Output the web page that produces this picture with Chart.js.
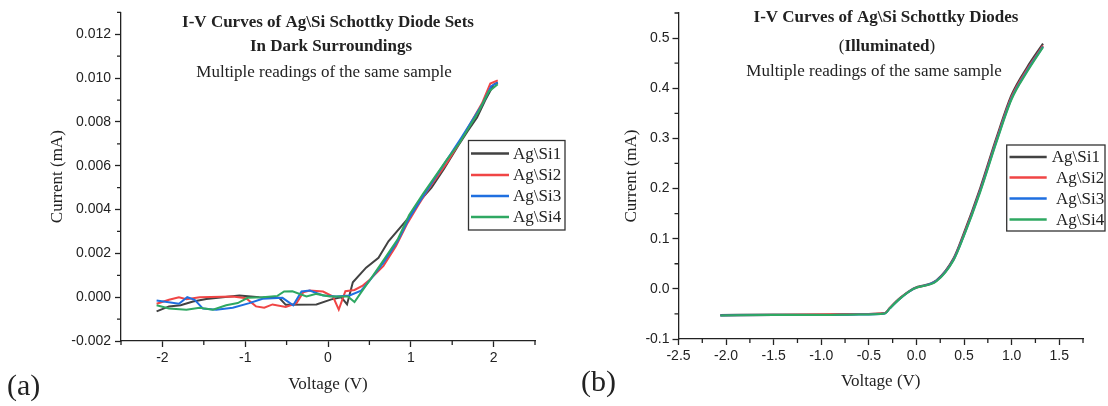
<!DOCTYPE html>
<html>
<head>
<meta charset="utf-8">
<script src="https://cdn.jsdelivr.net/npm/chart.js@4.4.1/dist/chart.umd.min.js"></script>
<style>
  html, body { margin: 0; padding: 0; background: #fff; }
  body { width: 1108px; height: 406px; position: relative; overflow: hidden; }
  #panelA { position: absolute; left: 0; top: 0; }
  #panelB { position: absolute; left: 580px; top: 0; }
</style>
</head>
<body>
<canvas id="panelA" width="580" height="406"></canvas>
<canvas id="panelB" width="528" height="406"></canvas>
<script>
// ---------- (a) dark measurements: voltage (V) and current (mA) ----------
const darkV1 = [-2.07, -1.92, -1.78, -1.63, -1.47, -1.07, -0.83, -0.59, -0.51, -0.14, 0.04, 0.16, 0.23, 0.30, 0.46, 0.61, 0.73, 0.90, 1.00, 1.11, 1.25, 1.40, 1.57, 1.69, 1.80, 1.90, 2.00, 2.05];
const darkI1 = [-0.00065, -0.00042, -0.00037, -0.0002, -0.00008, 0.00008, 0.0, -0.00003, -0.00035, -0.00033, -0.0001, 0.0, -0.00033, 0.00068, 0.00135, 0.0018, 0.00255, 0.0033, 0.00375, 0.0044, 0.005, 0.00585, 0.0069, 0.0076, 0.0082, 0.009, 0.0097, 0.0098];

const darkV2 = [-2.07, -1.92, -1.80, -1.71, -1.55, -1.15, -0.99, -0.87, -0.77, -0.67, -0.51, -0.38, -0.30, -0.22, -0.06, 0.06, 0.13, 0.21, 0.32, 0.42, 0.50, 0.67, 0.82, 0.96, 1.09, 1.19, 1.44, 1.61, 1.86, 1.96, 2.05];
const darkI2 = [-0.0003, -0.00012, 0.0, -0.00009, 0.0, 0.00003, -0.00005, -0.00042, -0.00048, -0.00033, -0.00045, -0.00027, 0.00022, 0.0003, 0.00026, 0.00003, -0.00057, 0.00027, 0.00033, 0.00053, 0.00078, 0.00143, 0.00233, 0.00338, 0.0042, 0.0048, 0.00615, 0.0072, 0.00885, 0.00975, 0.0099];

const darkV3 = [-2.07, -1.80, -1.70, -1.61, -1.51, -1.35, -1.15, -0.95, -0.79, -0.55, -0.42, -0.32, -0.22, -0.06, 0.10, 0.26, 0.40, 0.50, 0.67, 0.84, 0.98, 1.13, 1.44, 1.61, 1.86, 1.97, 2.05];
const darkI3 = [-0.00015, -0.0003, 0.0, -0.00012, -0.00052, -0.00057, -0.00048, -0.00027, -0.00007, -0.00003, -0.00037, 0.00026, 0.0003, 0.00008, 0.00003, 0.00008, 0.0003, 0.00075, 0.00158, 0.00255, 0.0036, 0.0045, 0.0063, 0.00728, 0.00878, 0.00963, 0.0098];

const darkV4 = [-2.07, -1.92, -1.71, -1.55, -1.39, -1.23, -1.09, -0.97, -0.79, -0.61, -0.53, -0.43, -0.26, -0.14, 0.02, 0.24, 0.32, 0.40, 0.50, 0.61, 0.69, 0.84, 0.98, 1.15, 1.44, 1.59, 1.82, 1.94, 2.05];
const darkI4 = [-0.00037, -0.00052, -0.00057, -0.00048, -0.00057, -0.00037, -0.00027, -0.00003, 0.0, 0.00006, 0.00026, 0.00027, 0.00003, 0.00015, 0.00003, 0.00003, -0.00022, 0.00022, 0.00075, 0.00135, 0.0018, 0.00263, 0.00375, 0.00473, 0.0063, 0.00705, 0.00848, 0.00938, 0.00972];

// ---------- (b) illuminated measurements ----------
const litV = [-2.06, -1.5, -1.0, -0.6, -0.33, -0.28, -0.17, -0.03, 0.21, 0.39, 0.49, 0.67, 0.84, 1.0, 1.16, 1.33];
const litI1 = [-0.052, -0.051, -0.051, -0.050, -0.048, -0.038, -0.018, 0.001, 0.017, 0.061, 0.107, 0.201, 0.301, 0.387, 0.441, 0.489];
const litI2 = [-0.053, -0.052, -0.051, -0.050, -0.048, -0.038, -0.018, 0.000, 0.016, 0.059, 0.104, 0.197, 0.297, 0.383, 0.437, 0.485];
const litI3 = [-0.053, -0.052, -0.052, -0.051, -0.049, -0.039, -0.019, 0.000, 0.016, 0.058, 0.102, 0.195, 0.294, 0.380, 0.434, 0.483];
const litI4 = [-0.053, -0.052, -0.052, -0.051, -0.049, -0.039, -0.019, 0.000, 0.015, 0.057, 0.101, 0.193, 0.292, 0.378, 0.432, 0.482];

const seriesNames = ['Ag\\Si1', 'Ag\\Si2', 'Ag\\Si3', 'Ag\\Si4'];
const seriesColors = ['#424242', '#f04545', '#1f6fe0', '#2fa862'];

// ---------- tick values ----------
const voltTicksA = [-2, -1, 0, 1, 2];
const voltMinorA = [-2.5, -1.5, -0.5, 0.5, 1.5, 2.5];
const currTicksA = [-0.002, 0.0, 0.002, 0.004, 0.006, 0.008, 0.010, 0.012];
const currMinorA = [-0.001, 0.001, 0.003, 0.005, 0.007, 0.009, 0.011, 0.013];

const voltTicksB = [-2.5, -2.0, -1.5, -1.0, -0.5, 0.0, 0.5, 1.0, 1.5];
const voltMinorB = [-2.25, -1.75, -1.25, -0.75, -0.25, 0.25, 0.75, 1.25, 1.75];
const currTicksB = [-0.1, 0.0, 0.1, 0.2, 0.3, 0.4, 0.5];
const currMinorB = [-0.05, 0.05, 0.15, 0.25, 0.35, 0.45, 0.55];

const SERIF = "'Liberation Serif', 'Times New Roman', serif";
const SANS = "'Liberation Sans', Arial, sans-serif";
const INK = '#222';

function points(xs, ys) { return xs.map((x, i) => ({ x: x, y: ys[i] })); }

// later series are painted over earlier ones
function makeSets(xsList, ysList, extra) {
  return ysList.map((ys, i) => Object.assign({
    label: seriesNames[i],
    data: points(xsList[i], ys),
    borderColor: seriesColors[i],
    backgroundColor: seriesColors[i],
    borderWidth: 2,
    pointRadius: 0,
    fill: false,
    order: ysList.length - i
  }, extra));
}

// short outward minor ticks on both axes
const minorTicks = {
  id: 'minorTicks',
  afterDraw(chart, args, opts) {
    const { ctx, chartArea } = chart;
    const xs = chart.scales.x, ys = chart.scales.y;
    ctx.save();
    ctx.strokeStyle = INK;
    ctx.lineWidth = 1.3;
    ctx.beginPath();
    opts.x.forEach(v => {
      const px = xs.getPixelForValue(v);
      ctx.moveTo(px, chartArea.bottom);
      ctx.lineTo(px, chartArea.bottom + opts.len);
    });
    opts.y.forEach(v => {
      const py = ys.getPixelForValue(v);
      ctx.moveTo(chartArea.left, py);
      ctx.lineTo(chartArea.left - opts.len, py);
    });
    ctx.stroke();
    ctx.restore();
  }
};

// framed legend built from the chart's datasets
const boxLegend = {
  id: 'boxLegend',
  afterDraw(chart, args, o) {
    const ctx = chart.ctx;
    ctx.save();
    ctx.fillStyle = '#fff';
    ctx.fillRect(o.left, o.top, o.right - o.left, o.bottom - o.top);
    ctx.strokeStyle = '#333';
    ctx.lineWidth = 1.3;
    ctx.strokeRect(o.left, o.top, o.right - o.left, o.bottom - o.top);
    ctx.font = '17px ' + SERIF;
    ctx.textBaseline = 'middle';
    ctx.textAlign = 'left';
    chart.data.datasets.forEach((ds, i) => {
      const y = o.rows[i];
      ctx.strokeStyle = ds.borderColor;
      ctx.lineWidth = 2.5;
      ctx.beginPath();
      ctx.moveTo(o.lineFrom, y);
      ctx.lineTo(o.lineTo, y);
      ctx.stroke();
      ctx.fillStyle = INK;
      ctx.fillText(ds.label, o.textX[i], y + 1);
    });
    ctx.restore();
  }
};

// free text: headings and panel letters
const freeText = {
  id: 'freeText',
  afterDraw(chart, args, opts) {
    const ctx = chart.ctx;
    ctx.save();
    ctx.fillStyle = INK;
    ctx.textBaseline = 'middle';
    opts.items.forEach(it => {
      const parts = it.parts.map(p => {
        const font = (p.bold ? 'bold ' : '') + it.size + 'px ' + SERIF;
        ctx.font = font;
        return { text: p.text, font: font, w: ctx.measureText(p.text).width };
      });
      const total = parts.reduce((s, p) => s + p.w, 0);
      let x = it.align === 'left' ? it.x : it.x - total / 2;
      ctx.textAlign = 'left';
      parts.forEach(p => {
        ctx.font = p.font;
        ctx.fillText(p.text, x, it.y);
        x += p.w;
      });
    });
    ctx.restore();
  }
};

function axisCommon(min, max, tickVals, fmt, pad) {
  return {
    type: 'linear',
    min: min,
    max: max,
    afterBuildTicks: s => { s.ticks = tickVals.map(v => ({ value: v })); },
    ticks: {
      font: { family: SANS, size: 14 },
      color: INK,
      padding: pad,
      autoSkip: false,
      maxRotation: 0,
      callback: fmt
    },
    grid: { drawOnChartArea: false, drawTicks: true, tickLength: 6, tickColor: INK, tickWidth: 1.3 },
    border: { display: true, color: INK, width: 1.3 }
  };
}

function buildChart(canvasId, cfg) {
  const x = axisCommon(cfg.xMin, cfg.xMax, cfg.xTicks, cfg.xFmt, 3);
  x.afterFit = s => { s.height = cfg.xHeight; };
  x.title = { display: true, text: 'Voltage (V)', color: INK, font: { family: SERIF, size: 17 }, padding: { top: 0, bottom: cfg.xTitlePad } };
  const y = axisCommon(cfg.yMin, cfg.yMax, cfg.yTicks, cfg.yFmt, cfg.yPad);
  y.afterFit = s => { s.width = cfg.yWidth; };
  y.title = { display: true, text: 'Current (mA)', color: INK, font: { family: SERIF, size: 17 }, padding: { top: cfg.yTitlePad, bottom: 0 } };

  return new Chart(document.getElementById(canvasId), {
    type: 'line',
    data: { datasets: cfg.datasets },
    options: {
      responsive: false,
      devicePixelRatio: 1,
      animation: false,
      layout: { padding: cfg.padding },
      scales: { x: x, y: y },
      plugins: {
        legend: { display: false },
        tooltip: { enabled: false },
        minorTicks: { x: cfg.xMinor, y: cfg.yMinor, len: 4 },
        boxLegend: cfg.legend,
        freeText: { items: cfg.text }
      }
    },
    plugins: [minorTicks, boxLegend, freeText]
  });
}

// (a) dark
buildChart('panelA', {
  datasets: makeSets([darkV1, darkV2, darkV3, darkV4], [darkI1, darkI2, darkI3, darkI4], { tension: 0 }),
  xMin: -2.5, xMax: 2.5, xTicks: voltTicksA, xMinor: voltMinorA, xFmt: v => v.toFixed(0),
  yMin: -0.002, yMax: 0.013, yTicks: currTicksA, yMinor: currMinorA, yFmt: v => v.toFixed(3),
  yPad: 4, yWidth: 121, xHeight: 65, yTitlePad: 47.7, xTitlePad: 10.8,
  padding: { left: 0, top: 8, right: 45, bottom: 0 },
  legend: { left: 468.5, top: 140.5, right: 565, bottom: 230, lineFrom: 471, lineTo: 509, textX: [513, 513, 513, 513], rows: [153.5, 175, 196, 217] },
  text: [
    { x: 328, y: 23, size: 17, parts: [{ text: 'I-V Curves of Ag\\Si Schottky Diode Sets', bold: true }] },
    { x: 331, y: 47, size: 17, parts: [{ text: 'In Dark Surroundings', bold: true }] },
    { x: 324, y: 73, size: 17, parts: [{ text: 'Multiple readings of the same sample', bold: false }] },
    { x: 7, y: 387, size: 30, align: 'left', parts: [{ text: '(a)', bold: false }] }
  ]
});

// (b) illuminated
buildChart('panelB', {
  datasets: makeSets([litV, litV, litV, litV], [litI1, litI2, litI3, litI4], { cubicInterpolationMode: 'monotone' }),
  xMin: -2.5, xMax: 1.75, xTicks: voltTicksB, xMinor: voltMinorB, xFmt: v => v.toFixed(1),
  yMin: -0.1, yMax: 0.55, yTicks: currTicksB, yMinor: currMinorB, yFmt: v => v.toFixed(1),
  yPad: 3, yWidth: 98.5, xHeight: 67, yTitlePad: 41.5, xTitlePad: 13.8,
  padding: { left: 0, top: 13, right: 25, bottom: 0 },
  legend: { left: 426.7, top: 145, right: 525, bottom: 231, lineFrom: 429.5, lineTo: 466.7, textX: [471.7, 476, 476, 476], rows: [157, 177.5, 198.5, 219.5] },
  text: [
    { x: 306, y: 17.5, size: 17, parts: [{ text: 'I-V Curves of Ag\\Si Schottky Diodes', bold: true }] },
    { x: 307, y: 47, size: 17, parts: [{ text: '(', bold: false }, { text: 'Illuminated', bold: true }, { text: ')', bold: false }] },
    { x: 294, y: 72, size: 17, parts: [{ text: 'Multiple readings of the same sample', bold: false }] },
    { x: 1, y: 383, size: 30, align: 'left', parts: [{ text: '(b)', bold: false }] }
  ]
});
</script>
</body>
</html>
